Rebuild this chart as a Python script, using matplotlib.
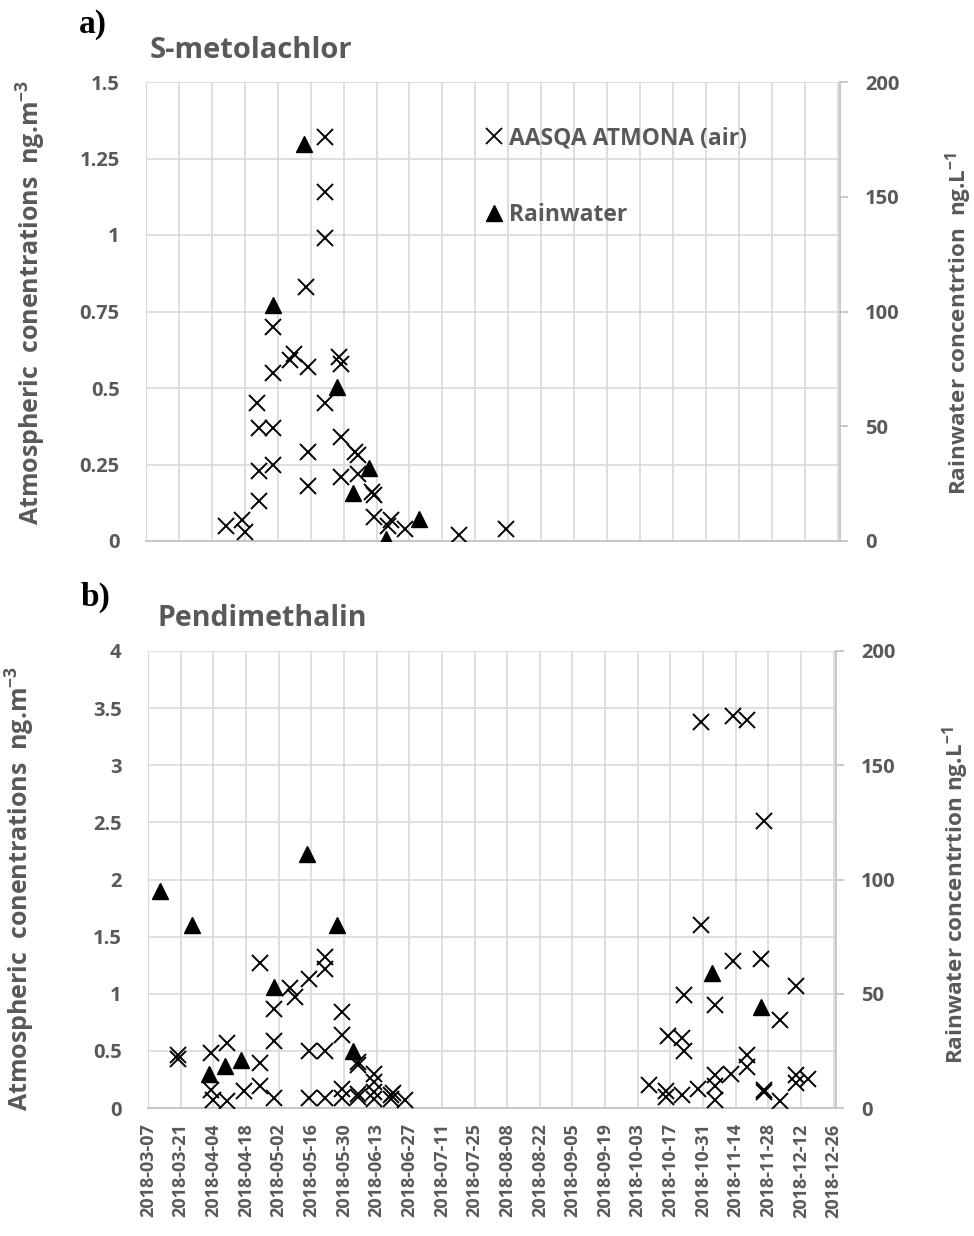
import numpy as np
import pandas as pd
import matplotlib
matplotlib.use('Agg')
import matplotlib.pyplot as plt
import matplotlib.dates as mdates
from matplotlib.lines import Line2D

# ---- a) S-metolachlor ----
smeto_air_dates = ['2018-04-10', '2018-04-17', '2018-04-18', '2018-04-23', '2018-04-24', '2018-04-24',
                   '2018-04-24', '2018-04-30', '2018-04-30', '2018-04-30', '2018-04-30', '2018-05-07',
                   '2018-05-09', '2018-05-14', '2018-05-15', '2018-05-15', '2018-05-15', '2018-05-22',
                   '2018-05-22', '2018-05-22', '2018-05-22', '2018-05-28', '2018-05-29', '2018-05-29',
                   '2018-05-29', '2018-06-04', '2018-06-05', '2018-06-05', '2018-06-11', '2018-06-12',
                   '2018-06-12', '2018-06-19', '2018-06-18', '2018-06-25', '2018-07-18', '2018-08-07']
smeto_air_vals = [0.05, 0.07, 0.03, 0.45, 0.37, 0.23,
                  0.13, 0.70, 0.55, 0.37, 0.25, 0.59,
                  0.61, 0.83, 0.57, 0.29, 0.18, 1.32,
                  1.14, 0.99, 0.45, 0.60, 0.58, 0.34,
                  0.21, 0.29, 0.28, 0.22, 0.16, 0.15,
                  0.08, 0.07, 0.05, 0.04, 0.02, 0.04]
smeto_rain_dates = ['2018-04-30', '2018-05-13', '2018-05-27', '2018-06-03', '2018-06-10', '2018-06-17', '2018-07-01']
smeto_rain_vals = [103, 173, 67, 21, 32, 1, 9.5]

# ---- b) Pendimethalin ----
pendi_air_dates = ['2018-03-20', '2018-03-20', '2018-04-03', '2018-04-03', '2018-04-04', '2018-04-10',
                   '2018-04-10', '2018-04-17', '2018-04-24', '2018-04-24', '2018-04-24', '2018-04-30',
                   '2018-04-30', '2018-04-30', '2018-05-07', '2018-05-09', '2018-05-15', '2018-05-15',
                   '2018-05-15', '2018-05-22', '2018-05-22', '2018-05-22', '2018-05-22', '2018-05-29',
                   '2018-05-29', '2018-05-29', '2018-05-29', '2018-06-05', '2018-06-05', '2018-06-05',
                   '2018-06-05', '2018-06-12', '2018-06-12', '2018-06-12', '2018-06-12', '2018-06-19',
                   '2018-06-19', '2018-06-20', '2018-06-25',
                   '2018-10-08', '2018-10-15', '2018-10-15', '2018-10-16', '2018-10-22', '2018-10-22',
                   '2018-10-23', '2018-10-23', '2018-10-29', '2018-10-30', '2018-10-30', '2018-11-05',
                   '2018-11-05', '2018-11-05', '2018-11-05', '2018-11-12', '2018-11-13', '2018-11-13',
                   '2018-11-19', '2018-11-19', '2018-11-19', '2018-11-25', '2018-11-26', '2018-11-26',
                   '2018-11-26', '2018-12-03', '2018-12-03', '2018-12-10', '2018-12-10', '2018-12-10',
                   '2018-12-15']
pendi_air_vals = [0.46, 0.43, 0.48, 0.16, 0.07, 0.57,
                  0.06, 0.15, 1.27, 0.39, 0.19, 0.87,
                  0.59, 0.09, 1.05, 0.97, 1.13, 0.50,
                  0.09, 1.32, 1.22, 0.50, 0.09, 0.84,
                  0.64, 0.17, 0.09, 0.40, 0.38, 0.12,
                  0.10, 0.30, 0.23, 0.14, 0.08, 0.11,
                  0.08, 0.13, 0.07,
                  0.20, 0.15, 0.10, 0.63, 0.61, 0.11,
                  0.99, 0.50, 0.17, 3.38, 1.60, 0.90,
                  0.29, 0.19, 0.07, 0.30, 3.43, 1.29,
                  3.40, 0.46, 0.36, 1.30, 2.51, 0.16,
                  0.14, 0.77, 0.06, 1.07, 0.29, 0.22,
                  0.25]
pendi_rain_dates = ['2018-03-12', '2018-03-26', '2018-04-02', '2018-04-09', '2018-04-16', '2018-04-30',
                    '2018-05-14', '2018-05-27', '2018-06-03', '2018-11-04', '2018-11-25']
pendi_rain_vals = [95, 80, 15, 18.5, 21, 53, 111, 80, 25, 59, 44]

gray = '#595959'
grid_c = '#d9d9d9'
font = 'Open Sans'
x_ticks = pd.date_range('2018-03-07', '2018-12-26', freq='14D')
x_lim = (pd.Timestamp('2018-03-07'), pd.Timestamp('2018-12-27'))

fig = plt.figure(figsize=(9.74, 12.36), dpi=100)


def make_panel(rect, air_d, air_v, rain_d, rain_v, ymax, ystep, ylabels, rlabel, show_x):
    ax = fig.add_axes(rect)
    ax.set_xlim(*x_lim)
    ax.set_ylim(0, ymax)
    ax.set_xticks(x_ticks)
    ax.set_yticks(np.arange(0, ymax + ystep / 2, ystep))
    ax.set_yticklabels(ylabels)
    ax.grid(True, color=grid_c, lw=1.2)
    ax.set_axisbelow(True)
    for s in ['top', 'right']:
        ax.spines[s].set_visible(False)
    ax.spines['left'].set_color(grid_c)
    ax.spines['bottom'].set_color('#bfbfbf')
    ax.spines['bottom'].set_linewidth(1.2)
    ax.tick_params(axis='y', length=0, pad=19, labelsize=14.5, labelcolor=gray)
    ax.tick_params(axis='x', length=0, pad=11, labelsize=13, labelcolor=gray)
    for lab in ax.get_yticklabels():
        lab.set_fontweight('bold')
        lab.set_family(font)
    if show_x:
        ax.xaxis.set_major_formatter(mdates.DateFormatter('%Y-%m-%d'))
        for lab in ax.get_xticklabels():
            lab.set_rotation(90)
            lab.set_fontweight('bold')
            lab.set_family(font)
    else:
        ax.set_xticklabels([])
    ax.set_ylabel('Atmospheric  conentrations  ng.m$^{\\mathregular{-3}}$', fontsize=18,
                  fontweight='bold', color=gray, family=font)

    ax.plot(pd.to_datetime(air_d), air_v, ls='', marker='x', color='black',
            markersize=12, markeredgewidth=1.4, zorder=3)

    ax2 = ax.twinx()
    ax2.set_ylim(0, 200)
    ax2.set_yticks([0, 50, 100, 150, 200])
    ax2.plot(pd.to_datetime(rain_d), rain_v, ls='', marker='^', color='black',
             markersize=12, zorder=4)
    for s in ['top', 'left', 'bottom']:
        ax2.spines[s].set_visible(False)
    ax2.spines['right'].set_color('#bfbfbf')
    ax2.spines['right'].set_linewidth(1.2)
    ax2.tick_params(axis='y', length=6, width=1.2, color='#bfbfbf', pad=12,
                    labelsize=14.5, labelcolor=gray)
    for lab in ax2.get_yticklabels():
        lab.set_fontweight('bold')
        lab.set_family(font)
    ax2.set_ylabel(rlabel, fontsize=16.2, fontweight='bold', color=gray, family=font)
    return ax, ax2


ax_a, ax_a2 = make_panel([146 / 974, 1 - 541 / 1236, 694 / 974, 459 / 1236],
                         smeto_air_dates, smeto_air_vals, smeto_rain_dates, smeto_rain_vals,
                         1.5, 0.25, ['0', '0.25', '0.5', '0.75', '1', '1.25', '1.5'],
                         'Rainwater concentrtion  ng.L$^{\\mathregular{-1}}$', False)
ax_b, ax_b2 = make_panel([148 / 974, 1 - 1108 / 1236, 688 / 974, 457 / 1236],
                         pendi_air_dates, pendi_air_vals, pendi_rain_dates, pendi_rain_vals,
                         4, 0.5, ['0', '0.5', '1', '1.5', '2', '2.5', '3', '3.5', '4'],
                         'Rainwater concentrtion ng.L$^{\\mathregular{-1}}$', True)

ax_a.yaxis.set_label_coords(-0.141, 0.52)
ax_b.yaxis.set_label_coords(-0.161, 0.48)
ax_a2.yaxis.set_label_coords(1.148, 0.475)
ax_b2.yaxis.set_label_coords(1.151, 0.466)

handles = [Line2D([], [], ls='', marker='x', color='black', markersize=11, markeredgewidth=1.3),
           Line2D([], [], ls='', marker='^', color='black', markersize=11)]
leg = ax_a2.legend(handles, ['AASQA ATMONA (air)', 'Rainwater'], loc='upper left',
                   bbox_to_anchor=(0.458, 0.948), frameon=False, labelspacing=2.3,
                   handlelength=0.8, handletextpad=0.25,
                   prop={'family': font, 'weight': 'bold', 'size': 16.5})
for t in leg.get_texts():
    t.set_color(gray)

fig.text(150 / 974, 1 - 51 / 1236, 'S-metolachlor', fontsize=21, fontweight='bold',
         color=gray, family=font, va='center', ha='left')
fig.text(157 / 974, 1 - 619 / 1236, 'Pendimethalin', fontsize=20.5, fontweight='bold',
         color=gray, family=font, va='center', ha='left')
fig.text(79 / 974, 1 - 25 / 1236, 'a)', fontsize=24, fontweight='bold',
         family='Liberation Serif', va='center', ha='left')
fig.text(81 / 974, 1 - 597 / 1236, 'b)', fontsize=24, fontweight='bold',
         family='Liberation Serif', va='center', ha='left')

fig.savefig('out.png', dpi=100)
